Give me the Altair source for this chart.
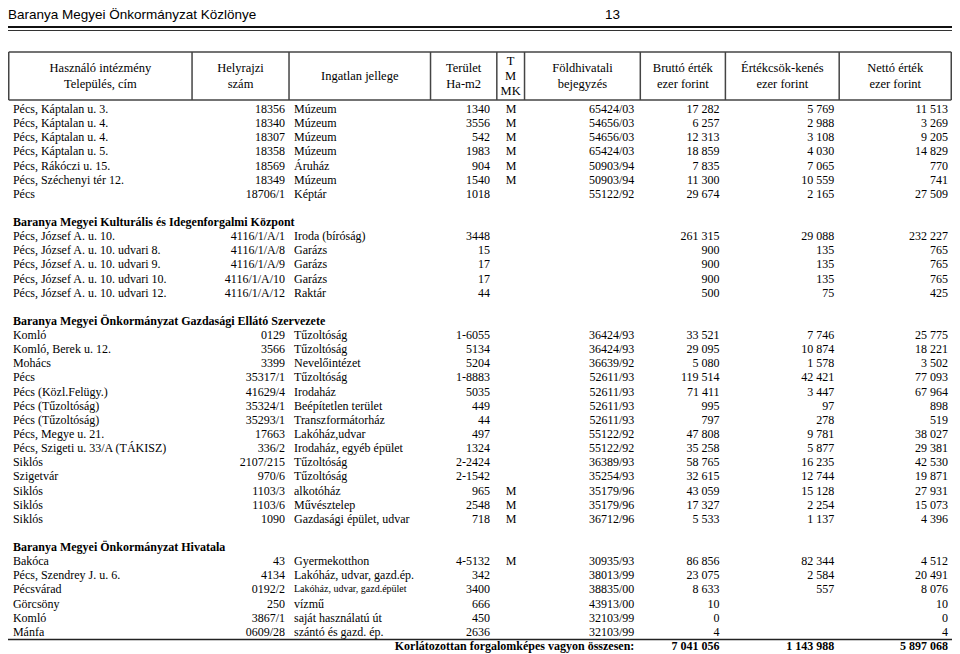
import altair as alt
import pandas as pd

# ---------------- data ----------------
TITLE = "Baranya Megyei Önkormányzat Közlönye"
PAGE_NO = "13"

HEADERS = [
    ["Használó intézmény", "Település, cím"],
    ["Helyrajzi", "szám"],
    ["Ingatlan jellege"],
    ["Terület", "Ha-m2"],
    ["T", "M", "MK"],
    ["Földhivatali", "bejegyzés"],
    ["Bruttó érték", "ezer forint"],
    ["Értékcsök-kenés", "ezer forint"],
    ["Nettó érték", "ezer forint"],
]

SECTION_TITLES = [
    None,
    "Baranya Megyei Kulturális és Idegenforgalmi Központ",
    "Baranya Megyei Önkormányzat Gazdasági Ellátó Szervezete",
    "Baranya Megyei Önkormányzat Hivatala",
]

# section 1
s1_hasznalo = ["Pécs, Káptalan u. 3.", "Pécs, Káptalan u. 4.", "Pécs, Káptalan u. 4.",
               "Pécs, Káptalan u. 5.", "Pécs, Rákóczi u. 15.", "Pécs, Széchenyi tér 12.", "Pécs"]
s1_hrsz = ["18356", "18340", "18307", "18358", "18569", "18349", "18706/1"]
s1_jelleg = ["Múzeum", "Múzeum", "Múzeum", "Múzeum", "Áruház", "Múzeum", "Képtár"]
s1_terulet = ["1340", "3556", "542", "1983", "904", "1540", "1018"]
s1_tmk = ["M", "M", "M", "M", "M", "M", ""]
s1_foldhiv = ["65424/03", "54656/03", "54656/03", "65424/03", "50903/94", "50903/94", "55122/92"]
s1_brutto = [17282, 6257, 12313, 18859, 7835, 11300, 29674]
s1_ertekcsokk = [5769, 2988, 3108, 4030, 7065, 10559, 2165]
s1_netto = [11513, 3269, 9205, 14829, 770, 741, 27509]

# section 2
s2_hasznalo = ["Pécs, József A. u. 10.", "Pécs, József A. u. 10. udvari 8.",
               "Pécs, József A. u. 10. udvari 9.", "Pécs, József A. u. 10. udvari 10.",
               "Pécs, József A. u. 10. udvari 12."]
s2_hrsz = ["4116/1/A/1", "4116/1/A/8", "4116/1/A/9", "4116/1/A/10", "4116/1/A/12"]
s2_jelleg = ["Iroda (bíróság)", "Garázs", "Garázs", "Garázs", "Raktár"]
s2_terulet = ["3448", "15", "17", "17", "44"]
s2_tmk = ["", "", "", "", ""]
s2_foldhiv = ["", "", "", "", ""]
s2_brutto = [261315, 900, 900, 900, 500]
s2_ertekcsokk = [29088, 135, 135, 135, 75]
s2_netto = [232227, 765, 765, 765, 425]

# section 3
s3_hasznalo = ["Komló", "Komló, Berek u. 12.", "Mohács", "Pécs", "Pécs (Közl.Felügy.)",
               "Pécs (Tűzoltóság)", "Pécs (Tűzoltóság)", "Pécs, Megye u. 21.",
               "Pécs, Szigeti u. 33/A (TÁKISZ)", "Siklós", "Szigetvár", "Siklós", "Siklós", "Siklós"]
s3_hrsz = ["0129", "3566", "3399", "35317/1", "41629/4", "35324/1", "35293/1", "17663",
           "336/2", "2107/215", "970/6", "1103/3", "1103/6", "1090"]
s3_jelleg = ["Tűzoltóság", "Tűzoltóság", "Nevelőintézet", "Tűzoltóság", "Irodaház",
             "Beépítetlen terület", "Transzformátorház", "Lakóház,udvar",
             "Irodaház, egyéb épület", "Tűzoltóság", "Tűzoltóság", "alkotóház",
             "Művésztelep", "Gazdasági épület, udvar"]
s3_terulet = ["1-6055", "5134", "5204", "1-8883", "5035", "449", "44", "497", "1324",
              "2-2424", "2-1542", "965", "2548", "718"]
s3_tmk = ["", "", "", "", "", "", "", "", "", "", "", "M", "M", "M"]
s3_foldhiv = ["36424/93", "36424/93", "36639/92", "52611/93", "52611/93", "52611/93",
              "52611/93", "55122/92", "55122/92", "36389/93", "35254/93", "35179/96",
              "35179/96", "36712/96"]
s3_brutto = [33521, 29095, 5080, 119514, 71411, 995, 797, 47808, 35258, 58765, 32615,
             43059, 17327, 5533]
s3_ertekcsokk = [7746, 10874, 1578, 42421, 3447, 97, 278, 9781, 5877, 16235, 12744,
                 15128, 2254, 1137]
s3_netto = [25775, 18221, 3502, 77093, 67964, 898, 519, 38027, 29381, 42530, 19871,
            27931, 15073, 4396]

# section 4
s4_hasznalo = ["Bakóca", "Pécs, Szendrey J. u. 6.", "Pécsvárad", "Görcsöny", "Komló", "Mánfa"]
s4_hrsz = ["43", "4134", "0192/2", "250", "3867/1", "0609/28"]
s4_jelleg = ["Gyermekotthon", "Lakóház, udvar, gazd.ép.", "Lakóház, udvar, gazd.épület",
             "vízmű", "saját használatú út", "szántó és gazd. ép."]
s4_small_jelleg = [False, False, True, False, False, False]
s4_terulet = ["4-5132", "342", "3400", "666", "450", "2636"]
s4_tmk = ["M", "", "", "", "", ""]
s4_foldhiv = ["30935/93", "38013/99", "38835/00", "43913/00", "32103/99", "32103/99"]
s4_brutto = [86856, 23075, 8633, 10, 0, 4]
s4_ertekcsokk = [82344, 2584, 557, None, None, None]
s4_netto = [4512, 20491, 8076, 10, 0, 4]

TOTAL_LABEL = "Korlátozottan forgalomképes vagyon összesen:"
TOTAL_BRUTTO = 7041056
TOTAL_ERTEKCSOKK = 1143988
TOTAL_NETTO = 5897068

# ---------------- layout (styling only) ----------------
W, H = 944, 646
KX = 944 / 954.0


def sx(ref):
    return (ref - 3) * KX


SERIF = "Liberation Serif"
SANS = "Liberation Sans"
FS = 12
ROW0, ROWSTEP = 101, 14.13

COLS = [  # name, anchor x, align
    ("hasznalo", sx(8), "left"),
    ("hrsz", sx(283), "right"),
    ("jelleg", sx(292), "left"),
    ("terulet", sx(490), "right"),
    ("tmk", sx(506), "left"),
    ("foldhiv", sx(636), "right"),
    ("brutto", sx(722), "right"),
    ("ertekcsokk", sx(838), "right"),
    ("netto", sx(953), "right"),
]
DIVIDERS = [sx(v) for v in [189, 287, 430, 497, 525, 642, 728, 843]]
BOX_L, BOX_R = 0.75, W - 0.75
BOX_T, BOX_B = 44, 92


def fmt(v):
    if v is None:
        return ""
    return f"{v:,}".replace(",", " ")


sections = [
    (s1_hasznalo, s1_hrsz, s1_jelleg, s1_terulet, s1_tmk, s1_foldhiv, s1_brutto, s1_ertekcsokk, s1_netto, None),
    (s2_hasznalo, s2_hrsz, s2_jelleg, s2_terulet, s2_tmk, s2_foldhiv, s2_brutto, s2_ertekcsokk, s2_netto, None),
    (s3_hasznalo, s3_hrsz, s3_jelleg, s3_terulet, s3_tmk, s3_foldhiv, s3_brutto, s3_ertekcsokk, s3_netto, None),
    (s4_hasznalo, s4_hrsz, s4_jelleg, s4_terulet, s4_tmk, s4_foldhiv, s4_brutto, s4_ertekcsokk, s4_netto, s4_small_jelleg),
]

records = []
row = 0
for si, sec in enumerate(sections):
    title = SECTION_TITLES[si]
    if si > 0:
        row += 1  # blank line
    if title:
        records.append(dict(row=row, col="hasznalo", text=title, fs=FS, bold=True))
        row += 1
    hz, hr, je, te, tm, fo, br, er, ne, small = sec
    for k in range(len(hz)):
        vals = dict(hasznalo=hz[k], hrsz=hr[k], jelleg=je[k], terulet=te[k], tmk=tm[k],
                    foldhiv=fo[k], brutto=fmt(br[k]), ertekcsokk=fmt(er[k]), netto=fmt(ne[k]))
        for c, t in vals.items():
            if t == "":
                continue
            fs = FS
            if c == "jelleg" and small is not None and small[k]:
                fs = 10
            records.append(dict(row=row, col=c, text=t, fs=fs, bold=False))
        row += 1
TOTAL_ROW = row
records.append(dict(row=row, col="foldhiv", text=TOTAL_LABEL, fs=FS, bold=True))
records.append(dict(row=row, col="brutto", text=fmt(TOTAL_BRUTTO), fs=FS, bold=True))
records.append(dict(row=row, col="ertekcsokk", text=fmt(TOTAL_ERTEKCSOKK), fs=FS, bold=True))
records.append(dict(row=row, col="netto", text=fmt(TOTAL_NETTO), fs=FS, bold=True))

df = pd.DataFrame(records)

yscale = alt.Scale(domain=[0, TOTAL_ROW], range=[ROW0, ROW0 + TOTAL_ROW * ROWSTEP], nice=False, zero=False)

layers = []
for name, xpos, align in COLS:
    for bold in (False, True):
        sub = df[(df.col == name) & (df.bold == bold)]
        if sub.empty:
            continue
        layers.append(
            alt.Chart(sub).mark_text(align=align, baseline="middle", font=SERIF,
                                     fontWeight="bold" if bold else "normal", color="#000")
            .encode(x=alt.value(xpos),
                    y=alt.Y("row:Q", scale=yscale, axis=None),
                    text="text:N",
                    size=alt.Size("fs:Q", scale=None, legend=None))
        )

# header texts
hdr_recs = []
edges = [BOX_L] + DIVIDERS + [BOX_R]
for ci, lines in enumerate(HEADERS):
    cx = (edges[ci] + edges[ci + 1]) / 2
    n = len(lines)
    step = 15 if n == 3 else 16
    for li, t in enumerate(lines):
        cy = (BOX_T + BOX_B) / 2 + (li - (n - 1) / 2) * step
        hdr_recs.append(dict(x=cx, y=cy, t=t))
hdr = pd.DataFrame(hdr_recs)
layers.append(
    alt.Chart(hdr).mark_text(align="center", baseline="middle", font=SERIF, fontSize=12.5, color="#000")
    .encode(x=alt.X("x:Q", scale=None, axis=None), y=alt.Y("y:Q", scale=None, axis=None), text="t:N")
)

# rules
def rule(x1, x2, y1, y2, w=1.0, color="#444"):
    return alt.Chart(alt.Data(values=[{}])).mark_rule(strokeWidth=w, color=color).encode(
        x=alt.value(x1), x2=alt.value(x2), y=alt.value(y1), y2=alt.value(y2))

layers.append(rule(0, W, 19, 19, 2.0, "#111"))
layers.append(rule(0, W, 22.5, 22.5, 1.0, "#333"))
layers.append(rule(BOX_L, BOX_R, BOX_T, BOX_T, 1.5))
layers.append(rule(BOX_L, BOX_R, BOX_B, BOX_B, 1.5))
for xv in [BOX_L] + DIVIDERS + [BOX_R]:
    layers.append(rule(xv, xv, BOX_T, BOX_B, 1.5))
layers.append(rule(0, W, ROW0 + (TOTAL_ROW - 0.45) * ROWSTEP, ROW0 + (TOTAL_ROW - 0.45) * ROWSTEP, 1.5, "#222"))

# title
layers.append(
    alt.Chart(alt.Data(values=[{"t": TITLE}])).mark_text(align="left", baseline="middle", font=SANS,
                                                          fontSize=13.5, color="#000")
    .encode(x=alt.value(0), y=alt.value(7), text="t:N")
)
layers.append(
    alt.Chart(alt.Data(values=[{"t": PAGE_NO}])).mark_text(align="center", baseline="middle", font=SANS,
                                                            fontSize=13.5, color="#000")
    .encode(x=alt.value(sx(614)), y=alt.value(7), text="t:N")
)

chart = alt.layer(*layers).resolve_scale(x="independent", y="independent").properties(
    width=W, height=H, padding=0, autosize=alt.AutoSizeParams(type="none")
).configure_view(stroke=None)

chart.save("out.html", embed_options={"renderer": "svg", "actions": False})
